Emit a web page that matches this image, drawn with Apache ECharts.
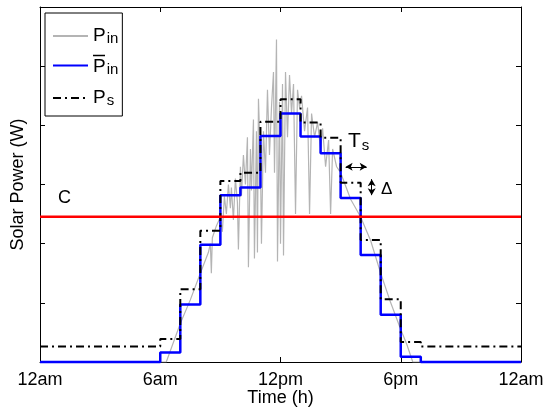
<!DOCTYPE html>
<html>
<head>
<meta charset="utf-8">
<script src="https://cdn.jsdelivr.net/npm/echarts@6/dist/echarts.min.js"></script>
<style>html,body{margin:0;padding:0;background:#fff;}#c{width:549px;height:409px;}</style>
</head>
<body>
<div id="c"></div>
<script>
// ---- data ----
const xTickLabels = ['12am', '6am', '12pm', '6pm', '12am'];
// step boundaries (hours); value i holds from stepHours[i] to stepHours[i+1]
const stepHours = [0, 6, 7, 8, 9, 10, 11, 12, 13, 14, 15, 16, 17, 18, 19, 24];
const pinBar = [0, 0.16, 0.97, 1.98, 2.82, 2.95, 3.82, 4.20, 3.81, 3.53, 2.77, 1.81, 0.80, 0.09, 0, 0];
const pS = [0.26, 0.39, 1.23, 2.22, 3.06, 3.20, 4.06, 4.44, 4.05, 3.79, 3.03, 2.06, 1.06, 0.34, 0.26, 0.26];
// raw solar input
const rawHours = [0, 6.3, 7, 7.5, 8, 8.4, 8.5, 8.55, 8.6, 8.8, 9.0,
  9.1, 9.2, 9.3, 9.4, 9.5, 9.55, 9.65, 9.75, 9.85, 9.9, 10.0, 10.05, 10.15, 10.25, 10.35, 10.4, 10.5, 10.55, 10.65, 10.7,
  10.8, 10.85, 10.9, 11.0, 11.05, 11.15, 11.25, 11.35, 11.45, 11.55, 11.65, 11.7, 11.8, 11.85, 11.95, 12.0, 12.1, 12.15,
  12.25, 12.35, 12.45, 12.55, 12.65, 12.75, 12.85, 12.95, 13.05, 13.2, 13.35, 13.45, 13.55, 13.7, 13.85, 14.0, 14.1,
  14.25, 14.4, 14.5, 14.6, 14.8, 15.0, 15.5, 16.0, 16.5, 17.0, 17.5, 18.0, 18.3, 18.6, 24];
const rawValues = [0, 0, 0.65, 1.05, 1.5, 1.85, 2.0, 1.5, 2.1, 2.3, 2.45,
  2.2, 2.8, 2.5, 3.0, 2.6, 2.95, 2.4, 3.1, 2.7, 1.9, 3.3, 2.8, 3.5, 3.0, 3.8, 1.6, 3.6, 2.9, 4.1, 1.75,
  3.9, 1.85, 4.45, 3.4, 2.0, 3.9, 3.2, 4.6, 3.5, 4.3, 4.9, 3.2, 5.45, 1.7, 4.4, 2.0, 4.7, 1.8,
  4.9, 3.8, 4.85, 4.2, 4.7, 2.5, 4.6, 4.3, 4.5, 3.9, 4.3, 2.5, 4.2, 3.8, 4.05, 3.6, 3.95,
  3.3, 3.75, 2.5, 3.6, 3.3, 3.2, 2.75, 2.45, 2.05, 1.5, 1.0, 0.55, 0.3, 0, 0];
const cLevel = 2.456;
const yMin = 0, yMax = 6, yStep = 1;

const zip = (xs, ys) => xs.map((x, i) => [x, ys[i]]);

const chart = echarts.init(document.getElementById('c'));
const FONT = 'Liberation Sans';
const TICK = 5;
const line = { show: true, onZero: false, lineStyle: { color: '#000', width: 1 } };
const tick = { show: true, inside: true, length: TICK, lineStyle: { color: '#000', width: 1 } };
const legendText = {
  Pin: '{p|P}{sub|in}',
  PinBar: '{bar| }\n{p|P}{sub|in}',
  Ps: '{p|P}{sub|s}'
};
chart.setOption({
  animation: false,
  backgroundColor: '#fff',
  textStyle: { fontFamily: FONT },
  grid: { left: 40, right: 28, top: 7, bottom: 47, containLabel: false, outerBoundsMode: 'none' },
  xAxis: [
    {
      type: 'value', min: 0, max: 24, interval: 6, position: 'bottom',
      axisLine: line, splitLine: { show: false }, axisTick: tick,
      name: 'Time (h)', nameLocation: 'middle', nameGap: 27, nameMoveOverlap: false,
      nameTextStyle: { fontSize: 18, color: '#000', fontFamily: FONT },
      axisLabel: { show: true, margin: 9, fontSize: 18, color: '#000', fontFamily: FONT,
        formatter: (v) => xTickLabels[Math.round(v / 6)] }
    },
    {
      type: 'value', min: 0, max: 24, interval: 6, position: 'top',
      axisLine: line, splitLine: { show: false }, axisLabel: { show: false }, axisTick: tick
    }
  ],
  yAxis: [
    {
      type: 'value', min: yMin, max: yMax, interval: yStep, position: 'left',
      axisLine: line, splitLine: { show: false }, axisLabel: { show: false }, axisTick: tick,
      name: 'Solar Power (W)', nameLocation: 'middle', nameGap: 13, nameMoveOverlap: false,
      nameTextStyle: { fontSize: 18, color: '#000', fontFamily: FONT }
    },
    {
      type: 'value', min: yMin, max: yMax, interval: yStep, position: 'right',
      axisLine: line, splitLine: { show: false }, axisLabel: { show: false }, axisTick: tick
    }
  ],
  legend: {
    orient: 'vertical', left: 45, top: 13,
    padding: [6, 4, 8, 7], itemWidth: 35, itemHeight: 14, itemGap: 4,
    borderColor: '#000', borderWidth: 1, backgroundColor: '#fff', borderRadius: 0,
    itemStyle: { color: 'rgba(0,0,0,0)', borderColor: 'rgba(0,0,0,0)', borderWidth: 0 },
    data: ['Pin', 'PinBar', 'Ps'],
    formatter: (n) => legendText[n],
    textStyle: {
      fontFamily: FONT, color: '#000',
      rich: {
        p: { fontSize: 19, fontFamily: FONT, color: '#000', lineHeight: 20, verticalAlign: 'top' },
        sub: { fontSize: 15, fontFamily: FONT, color: '#000', lineHeight: 15, padding: [12, 0, 0, 1], verticalAlign: 'bottom' },
        bar: { fontSize: 2, lineHeight: 3, width: 12, height: 1.5, backgroundColor: '#000' }
      }
    }
  },
  series: [
    {
      name: 'Pin', type: 'line', symbol: 'none', z: 1,
      data: zip(rawHours, rawValues),
      lineStyle: { color: '#b4b4b4', width: 1.2 }, itemStyle: { color: '#b4b4b4' }
    },
    {
      name: 'PinBar', type: 'line', symbol: 'none', step: 'end', clip: false, z: 2,
      data: zip(stepHours, pinBar),
      lineStyle: { color: '#0000ff', width: 2.5 }, itemStyle: { color: '#0000ff' }
    },
    {
      name: 'Ps', type: 'line', symbol: 'none', step: 'end', z: 3,
      data: zip(stepHours, pS),
      lineStyle: { color: '#000', width: 2, type: [8, 4, 2, 4] }, itemStyle: { color: '#000' }
    },
    {
      name: 'C', type: 'line', symbol: 'none', z: 4,
      data: [[0, cLevel], [24, cLevel]],
      lineStyle: { color: '#ff0000', width: 2.5 },
      markLine: {
        silent: true, symbol: ['arrow', 'arrow'], symbolSize: [6, 7],
        label: { show: false },
        lineStyle: { color: '#000', width: 1, type: 'solid' },
        data: [
          [{ coord: [15.25, 3.30] }, { coord: [16.3, 3.30] }],
          [{ coord: [16.55, 3.09] }, { coord: [16.55, 2.82] }]
        ]
      }
    }
  ],
  graphic: [
    { type: 'text', left: 58, top: 189, style: { text: 'C', font: '18px "Liberation Sans"', fill: '#000' } },
    { type: 'text', left: 348, top: 126, style: { text: '{t|T}{s|s}', fill: '#000',
      rich: { t: { fontSize: 21, fontFamily: FONT, lineHeight: 22, verticalAlign: 'top' },
              s: { fontSize: 15, fontFamily: FONT, lineHeight: 15, padding: [12, 0, 0, 1], verticalAlign: 'bottom' } } } },
    { type: 'text', left: 381, top: 181, style: { text: 'Δ', font: '17px "Liberation Sans"', fill: '#000' } }
  ]
});
</script>
</body>
</html>
